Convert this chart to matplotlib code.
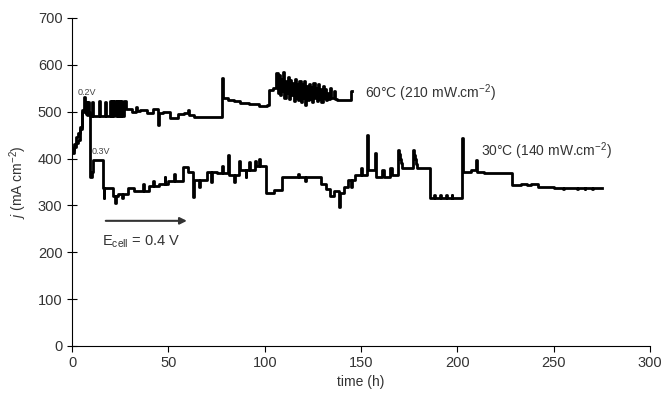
import matplotlib
matplotlib.use("Agg")
import matplotlib.pyplot as plt

plt.rcParams['font.family'] = ['Liberation Sans', 'DejaVu Sans']
plt.rcParams['mathtext.fontset'] = 'custom'
plt.rcParams['mathtext.rm'] = 'Liberation Sans'
plt.rcParams['mathtext.it'] = 'Liberation Sans:italic'

# 60 C run (time in h, current density in mA cm-2)
time_60 = [0, 1, 2, 3, 4, 5, 6, 6.5, 7, 7.6, 8.2, 9, 9.5, 10.5, 11, 14, 14.5, 17, 17.5,
           19.5, 20.1, 20.7, 21.3, 21.9, 22.5, 23.1, 23.7, 24.3, 24.9, 25.5, 26.1, 26.7,
           28, 31, 33, 33.5, 35, 39, 42, 44.5, 45, 47, 51, 55, 58, 60, 60.5, 63, 70, 77.8,
           78.3, 81, 84, 87, 92, 97, 101, 102, 104, 106,
           106.6, 107.2, 107.8, 108.4, 109, 109.6, 110.2, 110.8, 111.4, 112, 112.6, 113.2,
           113.8, 114.4, 115, 115.6, 116.2, 116.8, 117.4, 118, 118.6, 119.2, 119.8, 120.4,
           121, 121.6, 122.2, 122.8, 123.4, 124, 124.6, 125.2, 125.8, 126.4, 127, 127.6,
           128.2, 128.8, 129.4, 130, 130.6, 131.2, 131.8, 132.4, 133, 134, 134.6, 136,
           136.6, 137.4, 144, 144.6, 145.5]
j_60 = [418, 430, 445, 455, 467, 504, 531, 505, 520, 492, 520, 495, 491, 520, 491, 523, 491, 520, 491,
        523, 491, 523, 491, 523, 491, 523, 491, 523, 491, 523, 491, 523,
        505, 500, 510, 502, 504, 498, 505, 471, 497, 500, 486, 494, 497, 503, 493, 489, 488, 572,
        529, 525, 522, 519, 517, 512, 515, 546, 550, 582,
        540, 578, 535, 570, 545, 585, 530, 565, 540, 575, 528, 568,
        535, 562, 522, 570, 530, 560, 525, 565, 520, 558, 530, 566,
        515, 555, 525, 560, 528, 552, 520, 562, 530, 550, 522, 558,
        528, 548, 520, 555, 530, 548, 525, 540, 528, 550, 530, 545,
        527, 525, 525, 545, 545]

# 30 C run
time_30 = [0, 1, 2, 3, 4, 5, 6, 7, 8, 9.5, 10.5, 11, 16, 16.3, 16.6, 21, 22, 23, 24, 26, 26.4,
           29, 32, 35, 37, 37.4, 40, 42, 42.4, 45, 48, 48.4, 50, 53, 53.4, 57.6, 60, 62.5, 63,
           66, 66.4, 70, 72, 72.4, 75, 78, 78.4, 80.8, 81.3, 84, 84.4, 86.5, 87, 90, 90.4,
           92, 92.4, 94.8, 95.3, 97, 97.4, 100.5, 105, 109, 117, 117.5, 121, 121.4, 129, 132,
           134, 136, 138.5, 139, 141, 143, 145, 145.4, 147, 150, 150.4, 153, 153.5, 157, 157.5,
           161, 162, 165, 166, 169, 169.5, 170, 170.5, 171, 177, 177.5, 178, 178.5, 179, 185.5,
           188, 188.4, 191, 191.4, 194, 194.4, 197, 197.4, 202.6, 203.1, 207, 209.5, 210, 214,
           228.5, 233, 236, 238, 242, 250, 255, 255.5, 262, 262.4, 266, 266.4, 270, 270.4, 275]
j_30 = [412, 425, 433, 440, 462, 500, 505, 495, 500, 361, 372, 397, 337, 315, 337, 320, 305, 320, 325, 315, 325,
        337, 330, 330, 345, 330, 341, 352, 341, 345, 360, 345, 353, 368, 353, 382, 372, 318, 355,
        340, 355, 372, 350, 372, 369, 385, 369, 408, 365, 350, 365, 394, 375, 360, 375,
        392, 375, 394, 385, 400, 385, 327, 333, 361, 366, 361, 352, 361, 345, 335,
        320, 330, 297, 327, 340, 354, 340, 354, 365, 380, 365, 450, 376, 411, 361,
        375, 360, 380, 365, 418, 410, 400, 390, 379, 418, 408, 398, 388, 379, 316,
        322, 316, 322, 316, 322, 316, 322, 316, 444, 371, 375, 397, 371, 369,
        343, 346, 343, 346, 340, 337, 334, 337, 334, 337, 334, 337, 334, 337, 337]

fig = plt.figure(figsize=(6.62, 3.99), dpi=100)
ax = fig.add_axes([0.109, 0.133, 0.873, 0.822])

ax.plot(time_60, j_60, drawstyle='steps-post', color='black', lw=2)
ax.plot(time_30, j_30, drawstyle='steps-post', color='black', lw=2)

ax.set_xlim(0, 300)
ax.set_ylim(0, 700)
ax.set_xticks(range(0, 301, 50))
ax.set_yticks(range(0, 701, 100))
for s in ['top', 'right']:
    ax.spines[s].set_visible(False)
ax.tick_params(axis='y', direction='inout', length=7, labelsize=10.5, labelcolor='#333333')
ax.tick_params(axis='x', direction='out', length=4, labelsize=10.5, labelcolor='#333333')

ax.set_xlabel('time (h)', fontsize=10, color='#333333', labelpad=3)
ax.set_ylabel(r'$j$ (mA cm$^{-2}$)', fontsize=10, color='#333333', labelpad=6)

ax.text(3, 540, '0.2V', fontsize=6.5, color='#444444', va='center')
ax.text(10, 414, '0.3V', fontsize=6.5, color='#444444', va='center')
ax.text(152, 540, r'60°C (210 mW.cm$^{-2}$)', fontsize=10, color='#333333', va='center')
ax.text(212, 416, r'30°C (140 mW.cm$^{-2}$)', fontsize=10, color='#333333', va='center')

ax.annotate('', xy=(61, 267), xytext=(16, 267),
            arrowprops=dict(arrowstyle='-|>', color='#333333', lw=1.5, mutation_scale=10))
ax.text(15.5, 222, r'E$_{\mathrm{cell}}$ = 0.4 V', fontsize=10.5, color='#333333', va='center')

fig.savefig('out.png', dpi=100)
